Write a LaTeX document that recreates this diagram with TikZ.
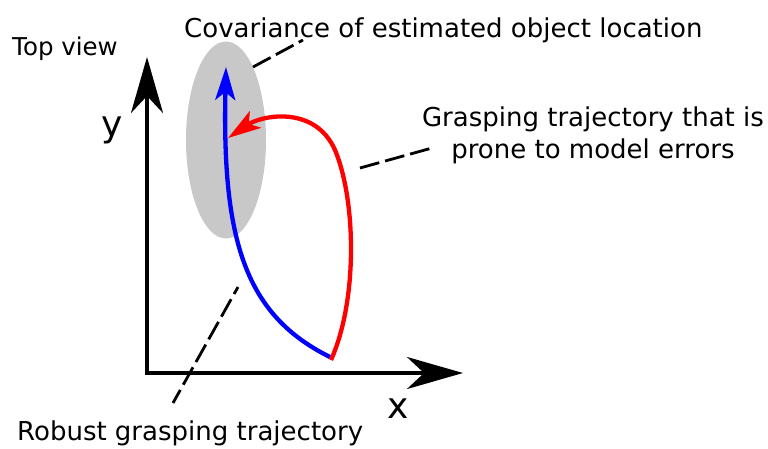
\documentclass[tikz,border=0pt]{standalone}
\usepackage{fontspec}
\setmainfont{DejaVu Sans}
\usetikzlibrary{arrows.meta,shapes.geometric}
\definecolor{covgray}{RGB}{200,200,200}
\begin{document}
\begin{tikzpicture}[x=1pt,y=-1pt,
  lbl/.style={inner sep=0pt, font=\fontsize{26}{32}\selectfont},
  toplbl/.style={inner sep=0pt, font=\fontsize{24.5}{30}\selectfont},
  axlbl/.style={inner sep=0pt, font=\fontsize{36}{40}\selectfont},
  axis/.style={line width=3.4pt, line join=miter},
  bigtip/.tip={Stealth[length=56pt,width=32pt,inset=17pt]},
  smalltip/.tip={Stealth[length=33pt,width=20pt,inset=8pt]},
  leader/.style={line width=2.8pt, dash pattern=on 20pt off 6pt},
  traj/.style={line width=4.3pt}]
\useasboundingbox (0,0) rectangle (768,448);
% covariance ellipse
\node[ellipse, fill=covgray, minimum width=80pt, minimum height=197pt, inner sep=0pt] (cov) at (226,140) {};
% axes
\coordinate (o) at (147,373);
\coordinate (ytip) at (147,57);
\coordinate (xtip) at (463,373);
\draw[axis, bigtip-bigtip] (ytip) -- (o) -- (xtip);
% trajectories
\coordinate (bs) at (330,357);
\coordinate (bt) at (226,67);
\draw[traj, blue, -smalltip] (bs) .. controls (245,315) and (222,240) .. (bt);
\coordinate (rs) at (331,360);
\coordinate (rm) at (335,150);
\coordinate (rt) at (228,138);
\draw[traj, red, -smalltip] (rs) .. controls (358,300) and (356,200) .. (rm) .. controls (315,105) and (262,115) .. (rt);
% labels
\node[toplbl, anchor=base west] (top) at (12,55) {Top view};
\node[lbl, anchor=base west] (covl) at (184,37) {Covariance of estimated object location};
\node[lbl, anchor=base, align=center] (grl) at (593,158) {Grasping trajectory that is\\prone to model errors};
\node[lbl, anchor=base west] (robl) at (17,440) {Robust grasping trajectory};
\node[axlbl, anchor=base west] (ylab) at (101,136) {y};
\node[axlbl, anchor=base west] (xlab) at (387,418) {x};
% leader lines
\coordinate (l1a) at (253,67);
\coordinate (l1b) at (303,40);
\draw[leader] (l1a) -- (l1b);
\coordinate (l2a) at (360,168);
\coordinate (l2b) at (432,148);
\draw[leader] (l2a) -- (l2b);
\coordinate (l3a) at (238,287);
\coordinate (l3b) at (173,403);
\draw[leader, dash pattern=on 20pt off 6pt, dash phase=12pt] (l3a) -- (l3b);
\end{tikzpicture}
\end{document}
